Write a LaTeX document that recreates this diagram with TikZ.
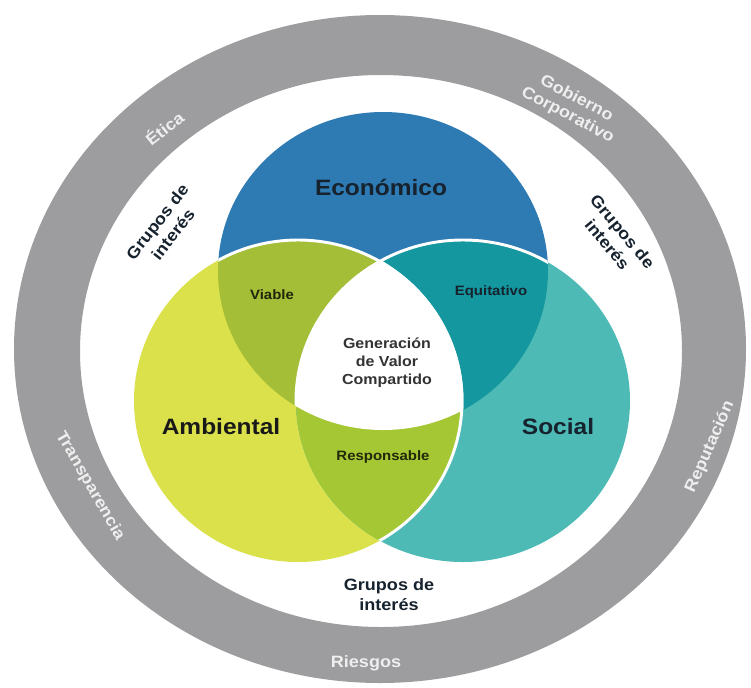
\documentclass[tikz,border=0pt]{standalone}
\usepackage{fontspec}
\setmainfont{Liberation Sans}[FakeStretch=1.1]
\usepackage{tikz}
\definecolor{ringgray}{RGB}{157,157,160}
\definecolor{ringlabel}{RGB}{238,238,238}
\definecolor{econblue}{RGB}{46,123,180}
\definecolor{ambyellow}{RGB}{218,225,74}
\definecolor{socteal}{RGB}{77,186,181}
\definecolor{viablegreen}{RGB}{164,190,56}
\definecolor{equitteal}{RGB}{20,151,158}
\definecolor{respgreen}{RGB}{165,199,52}
\definecolor{darktext}{RGB}{22,34,46}
\def\econpath{(383,271) ellipse [x radius=165,y radius=159]}
\def\ambpath{(298,401) ellipse [x radius=164,y radius=161]}
\def\socpath{(463,401) ellipse [x radius=167,y radius=161]}

\begin{document}
\begin{tikzpicture}[x=0.03cm,y=-0.03cm]
\tikzstyle{every node}=[align=center,inner sep=1pt]
\tikzstyle{bigtext}=[font=\bfseries\fontsize{19}{22}\selectfont]
\tikzstyle{smalltext}=[font=\bfseries\fontsize{11.6}{14}\selectfont]
\tikzstyle{grupos}=[font=\bfseries\fontsize{14}{17}\selectfont,text=darktext]
\tikzstyle{ringtext}=[font=\bfseries\fontsize{14}{16}\selectfont,text=ringlabel]
\tikzstyle{whiteline}=[draw=white,line width=2.5pt]
\useasboundingbox (0,0) rectangle (751,687);
\fill[ringgray,even odd rule] (380,349) ellipse [x radius=366,y radius=334]
  (381,351) ellipse [x radius=301,y radius=276];
\fill[econblue] \econpath;
\fill[ambyellow] \ambpath;
\fill[socteal] \socpath;
\begin{scope}
\clip \econpath;
\fill[viablegreen] \ambpath;
\fill[equitteal] \socpath;
\end{scope}
\begin{scope}
\clip \ambpath;
\fill[respgreen] \socpath;
\end{scope}
\begin{scope}
\clip \econpath;
\clip \ambpath;
\fill[white] \socpath;
\end{scope}
\begin{scope}
\clip \econpath;
\draw[whiteline] \ambpath;
\draw[whiteline] \socpath;
\end{scope}
\begin{scope}
\clip \socpath;
\draw[whiteline] \ambpath;
\end{scope}
\node[bigtext,text=darktext] (econ) at (381,187) {Económico};
\node[bigtext,text=black!90] (amb) at (221,427) {Ambiental};
\node[bigtext,text=darktext] (soc) at (558,427) {Social};
\node[smalltext,text=black!80!viablegreen] (viable) at (272,295) {Viable};
\node[smalltext,text=darktext] (equit) at (491,292) {Equitativo};
\node[smalltext,text=black!80!respgreen] (resp) at (383,457) {Responsable};
\node[font=\bfseries\fontsize{12.4}{15.4}\selectfont,text=black!80] (gvc) at (387,363) {Generación\\de Valor\\Compartido};
\node[grupos] (gruposb) at (389,595) {Grupos de\\interés};
\node[grupos,rotate=52] (gruposl) at (165,228) {Grupos de\\interés};
\node[grupos,rotate=-50] (gruposr) at (615,238) {Grupos de\\interés};
\node[ringtext,rotate=38] (etica) at (164,128) {Ética};
\node[ringtext,rotate=-28] (gob) at (572,107) {Gobierno\\Corporativo};
\node[ringtext,rotate=-60] (transp) at (90,486) {Transparencia};
\node[ringtext,rotate=66] (reput) at (710,447) {Reputación};
\node[ringtext] (riesgos) at (366,663) {Riesgos};
\end{tikzpicture}
\end{document}
